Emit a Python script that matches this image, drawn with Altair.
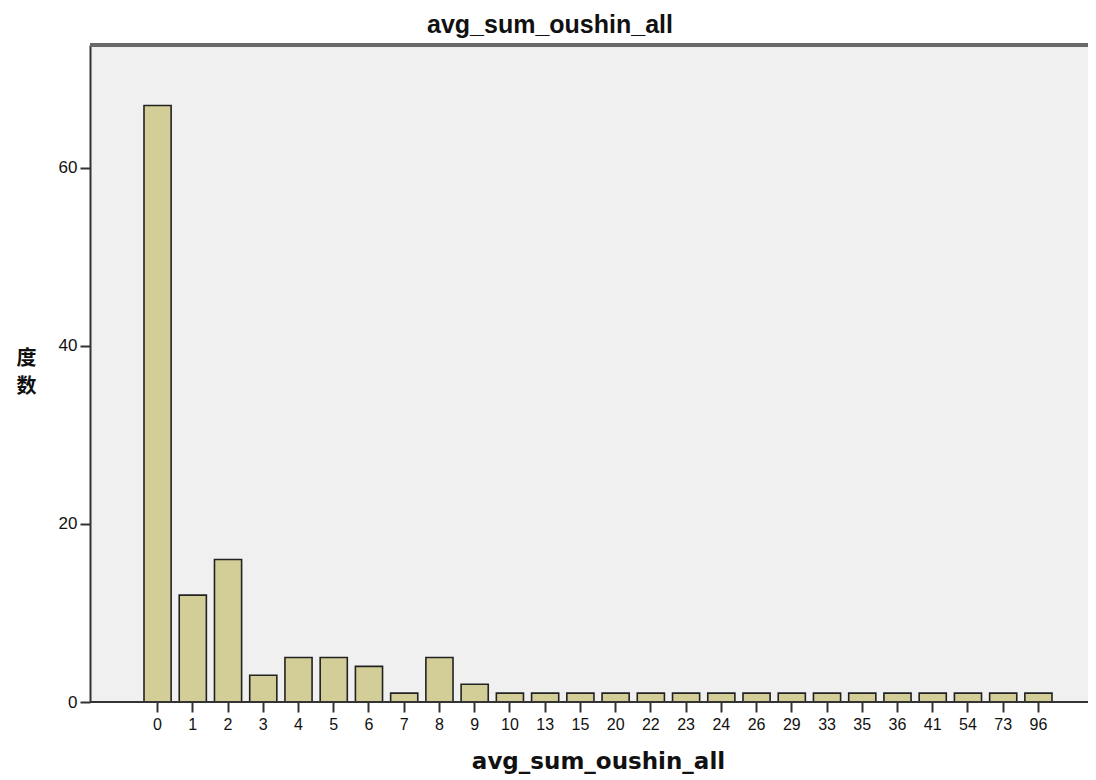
import altair as alt
import pandas as pd

categories = ["0", "1", "2", "3", "4", "5", "6", "7", "8", "9", "10", "13", "15", "20",
              "22", "23", "24", "26", "29", "33", "35", "36", "41", "54", "73", "96"]
counts = [67, 12, 16, 3, 5, 5, 4, 1, 5, 2, 1, 1, 1, 1, 1, 1, 1, 1, 1, 1, 1, 1, 1, 1, 1, 1]
y_ticks = [0, 20, 40, 60]

df = pd.DataFrame({"cat": categories, "n": counts})

W, H = 998, 657
FONT = "Liberation Sans"

bars = alt.Chart(df).mark_bar(
    fill="#d3ce97", stroke="#222222", strokeWidth=1.6
).encode(
    x=alt.X("cat:N", sort=categories,
            scale=alt.Scale(range=[54, 962], paddingInner=0.23, paddingOuter=0),
            axis=alt.Axis(title="avg_sum_oushin_all", labelAngle=0, domain=False,
                          tickSize=10, tickWidth=2, tickColor="#333333",
                          labelFont=FONT, labelFontSize=16, labelColor="#111111",
                          labelPadding=4,
                          titleFont="DejaVu Sans", titleFontSize=23, titleFontWeight="bold",
                          titleColor="#111111", titlePadding=18)),
    y=alt.Y("n:Q", scale=alt.Scale(domain=[0, 73.8], nice=False, zero=True),
            axis=alt.Axis(values=y_ticks, grid=False, title=["度", "数"],
                          domain=True, domainColor="#333333", domainWidth=2,
                          tickSize=10, tickWidth=2, tickColor="#333333",
                          labelFont=FONT, labelFontSize=17, labelColor="#111111",
                          labelPadding=3,
                          titleFont="Noto Sans CJK SC", titleFontSize=20,
                          titleFontWeight="bold", titleColor="#111111",
                          titleAngle=0, titleX=-64, titleY=313,
                          titleAlign="center", titleBaseline="middle",
                          titleLineHeight=28)),
)

top_rule = alt.Chart(df).mark_rule(color="#6a6a6a", strokeWidth=2.5).encode(
    x=alt.value(0), x2=alt.value(W), y=alt.value(0)
)
bottom_rule = alt.Chart(df).mark_rule(color="#333333", strokeWidth=2).encode(
    x=alt.value(0), x2=alt.value(W), y=alt.value(H)
)

chart = alt.layer(bars, bottom_rule, top_rule).properties(
    width=W, height=H,
    title=alt.TitleParams("avg_sum_oushin_all", font=FONT, fontSize=25,
                          fontWeight="bold", color="#111111", anchor="middle",
                          dx=-39, offset=6),
    autosize=alt.AutoSizeParams(type="none"),
    padding={"left": 82, "top": 37, "right": 0, "bottom": 76},
    background="white",
).configure_view(
    fill="#f0f0f0", stroke=None
)

chart.save("out.html", embed_options={"renderer": "svg", "actions": False})
